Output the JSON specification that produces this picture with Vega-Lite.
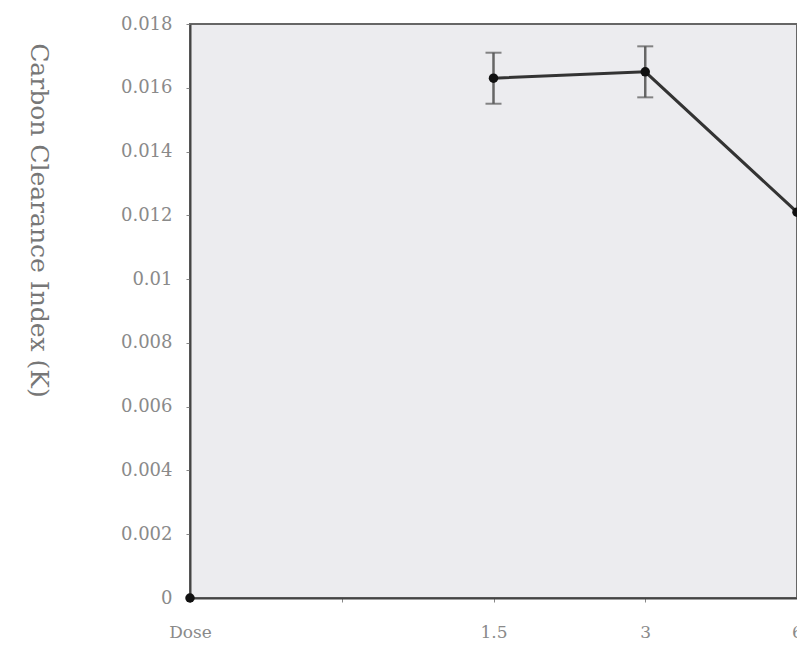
{
  "$schema": "https://vega.github.io/schema/vega-lite/v6.json",
  "autosize": "none",
  "width": 607,
  "height": 574,
  "padding": {"left": 190, "top": 24, "right": 0, "bottom": 55},
  "background": "white",
  "config": {
    "view": {"fill": "#ececef", "stroke": "#666", "strokeWidth": 2},
    "axis": {"labelFont": "DejaVu Serif", "titleFont": "DejaVu Serif", "grid": false}
  },
  "data": {
    "values": [
      {"dose": "0", "k": 0, "lo": null, "hi": null, "line": false},
      {"dose": "1.5", "k": 0.0163, "lo": 0.0155, "hi": 0.0171, "line": true},
      {"dose": "3", "k": 0.0165, "lo": 0.0157, "hi": 0.0173, "line": true},
      {"dose": "6", "k": 0.0121, "lo": null, "hi": null, "line": true}
    ]
  },
  "encoding": {
    "x": {
      "field": "dose",
      "type": "ordinal",
      "scale": {"type": "point", "domain": ["0", "x", "1.5", "3", "6"], "padding": 0},
      "axis": {
        "title": null,
        "labelAngle": 0,
        "labelExpr": "datum.value == '0' ? 'Dose' : datum.value == 'x' ? '' : datum.label",
        "labelFontSize": 17,
        "labelColor": "#8a8a8a",
        "labelPadding": 22,
        "domainColor": "#444",
        "domainWidth": 2,
        "tickColor": "#888",
        "tickSize": 4
      }
    }
  },
  "layer": [
    {
      "transform": [{"filter": "datum.hi != null"}],
      "mark": {"type": "rule", "color": "#666", "strokeWidth": 2.5},
      "encoding": {
        "y": {"field": "lo", "type": "quantitative", "scale": {"domain": [0, 0.018]}},
        "y2": {"field": "hi"}
      }
    },
    {
      "transform": [{"filter": "datum.hi != null"}],
      "mark": {"type": "tick", "color": "#555", "size": 16, "thickness": 2},
      "encoding": {"y": {"field": "hi", "type": "quantitative"}}
    },
    {
      "transform": [{"filter": "datum.hi != null"}],
      "mark": {"type": "tick", "color": "#555", "size": 16, "thickness": 2},
      "encoding": {"y": {"field": "lo", "type": "quantitative"}}
    },
    {
      "transform": [{"filter": "datum.line"}],
      "mark": {"type": "line", "color": "#333", "strokeWidth": 3},
      "encoding": {"y": {"field": "k", "type": "quantitative"}}
    },
    {
      "mark": {"type": "point", "filled": true, "color": "#111", "size": 90, "opacity": 1},
      "encoding": {
        "y": {
          "field": "k",
          "type": "quantitative",
          "scale": {"domain": [0, 0.018]},
          "axis": {
            "title": "Carbon Clearance Index (K)",
            "titleAngle": 90,
            "titleX": -152,
            "titleY": 196,
            "titleAlign": "center",
            "titleBaseline": "middle",
            "titleFontSize": 25,
            "titleFontWeight": "normal",
            "titleColor": "#777",
            "values": [0, 0.002, 0.004, 0.006, 0.008, 0.01, 0.012, 0.014, 0.016, 0.018],
            "format": "~g",
            "labelFontSize": 18,
            "labelColor": "#8a8a8a",
            "labelPadding": 14,
            "domainColor": "#444",
            "domainWidth": 2,
            "tickColor": "#888",
            "tickSize": 4
          }
        }
      }
    }
  ]
}
